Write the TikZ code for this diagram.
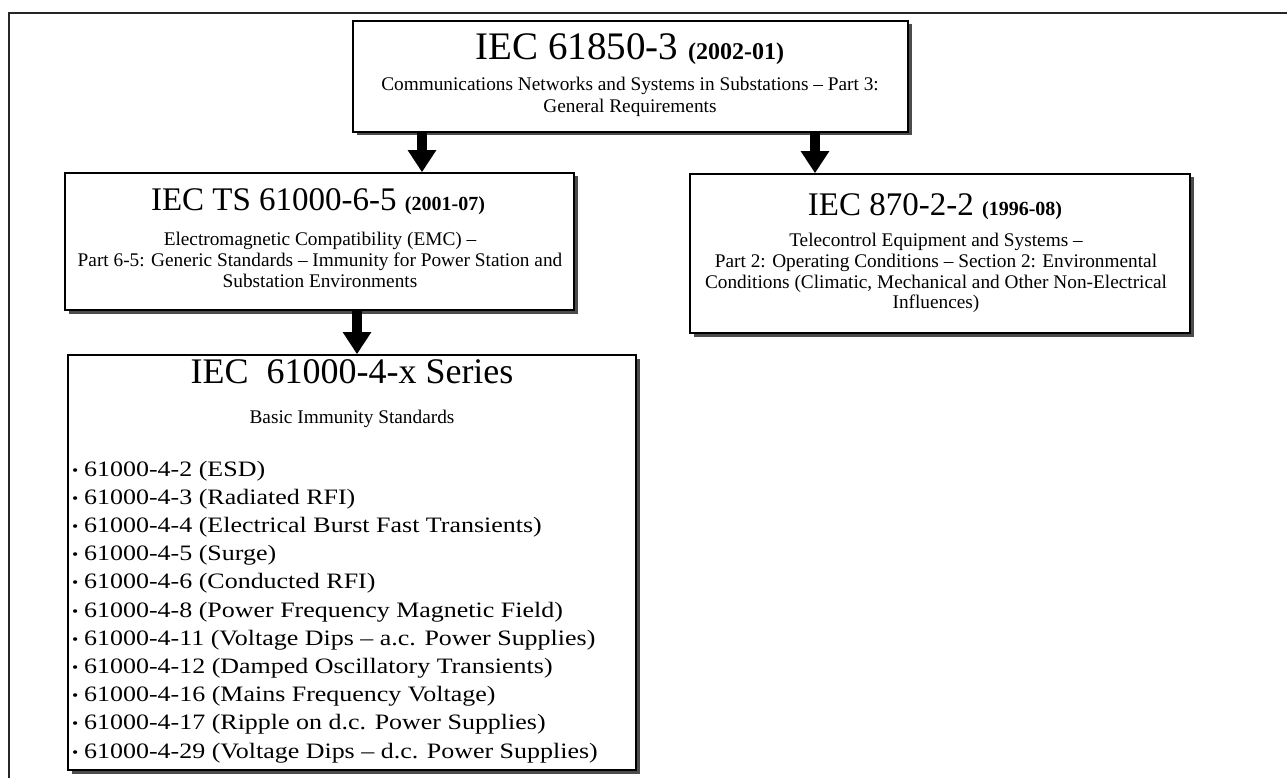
\documentclass[tikz,border=0pt]{standalone}
\usepackage{fontspec}
\setmainfont{Liberation Serif}
\newfontfamily\listfont[FakeStretch=1.18]{Liberation Serif}
\usetikzlibrary{arrows.meta,shadows}

\begin{document}
\begin{tikzpicture}[x=1pt,y=-1pt,
  box/.style={draw=black, line width=1.6pt, fill=white, inner sep=0pt,
    drop shadow={shadow xshift=3.5pt, shadow yshift=-3.5pt, fill=black!70, opacity=1}},
  bigarrow/.style={line width=10pt, -{Triangle[width=27pt,length=22pt]}},
  ttl/.style={anchor=base, inner sep=0pt, font=\fontsize{#1}{#1}\selectfont},
  sub/.style={anchor=base, inner sep=0pt, font=\fontsize{19.3}{23}\selectfont},
  item/.style={anchor=base west, inner sep=0pt, font=\listfont\fontsize{22}{26}\selectfont},
  frame/.style={line width=2pt, draw=black!85}]

\useasboundingbox (0,0) rectangle (1287,778);
\fill[white] (0,0) rectangle (1287,778);

% outer frame (left and top edges)
\draw[frame] (9,778) -- (9,13) -- (1287,13);

% boxes
\node[box, minimum width=555pt, minimum height=111pt] (top)  at (630.5,76.5) {};
\node[box, minimum width=509pt, minimum height=137pt] (ts)   at (319.5,241.5) {};
\node[box, minimum width=500pt, minimum height=159pt] (iec)  at (940,253.5) {};
\node[box, minimum width=568pt, minimum height=415pt] (ser)  at (352,562.5) {};

% arrow columns
\coordinate (c1) at (422,0);
\coordinate (c2) at (815,0);
\coordinate (c3) at (357,0);
\draw[bigarrow] (top.south -| c1) -- (ts.north -| c1);
\draw[bigarrow] (top.south -| c2) -- (iec.north -| c2);
\draw[bigarrow] (ts.south -| c3) -- (ser.north -| c3);

% IEC 61850-3
\node[ttl=39] (topT) at (630,60) {IEC 61850-3 {\bfseries\fontsize{24}{24}\selectfont(2002-01)}};
\node[sub] (topS1) at (630,91)  {Communications Networks and Systems in Substations – Part 3:};
\node[sub] (topS2) at (630,113) {General Requirements};

% IEC TS 61000-6-5
\node[ttl=33] (tsT) at (318,211) {IEC TS 61000-6-5 {\bfseries\fontsize{20}{20}\selectfont(2001-07)}};
\node[sub] (tsS1) at (320,245) {Electromagnetic Compatibility (EMC) –};
\node[sub] (tsS2) at (320,266) {Part 6-5: Generic Standards – Immunity for Power Station and};
\node[sub] (tsS3) at (320,287) {Substation Environments};

% IEC 870-2-2
\node[ttl=33] (iecT) at (935,215) {IEC 870-2-2 {\bfseries\fontsize{20}{20}\selectfont(1996-08)}};
\node[sub] (iecS1) at (936,246) {Telecontrol Equipment and Systems –};
\node[sub] (iecS2) at (936,267) {Part 2: Operating Conditions – Section 2: Environmental};
\node[sub] (iecS3) at (936,288) {Conditions (Climatic, Mechanical and Other Non-Electrical};
\node[sub] (iecS4) at (936,308) {Influences)};

% IEC 61000-4-x series
\node[ttl=36] (serT) at (352,383) {IEC\ \ 61000-4-x Series};
\node[sub] (serS) at (352,423) {Basic Immunity Standards};

\foreach \t [count=\i] in {
  {61000-4-2 (ESD)},
  {61000-4-3 (Radiated RFI)},
  {61000-4-4 (Electrical Burst Fast Transients)},
  {61000-4-5 (Surge)},
  {61000-4-6 (Conducted RFI)},
  {61000-4-8 (Power Frequency Magnetic Field)},
  {61000-4-11 (Voltage Dips – a.c. Power Supplies)},
  {61000-4-12 (Damped Oscillatory Transients)},
  {61000-4-16 (Mains Frequency Voltage)},
  {61000-4-17 (Ripple on d.c. Power Supplies)},
  {61000-4-29 (Voltage Dips – d.c. Power Supplies)}}
  \node[item] (it\i) at (72,{476+28.2*(\i-1)})
    {\makebox[12pt][l]{\raisebox{1pt}{\fontsize{15}{15}\selectfont\textbullet}}\t};

\end{tikzpicture}
\end{document}
